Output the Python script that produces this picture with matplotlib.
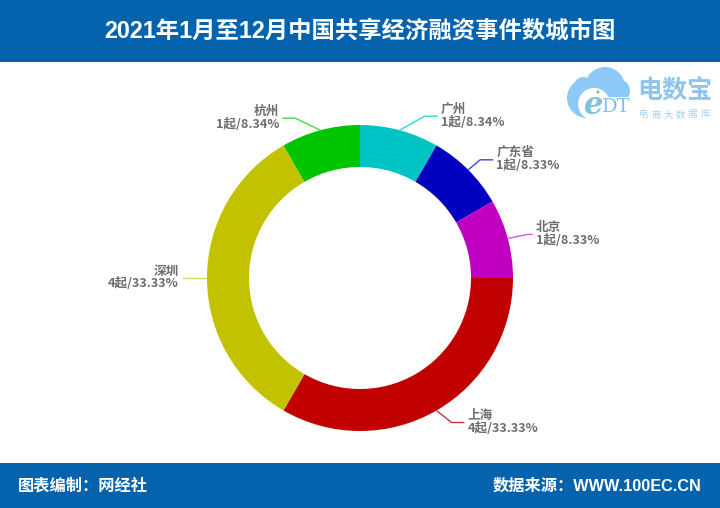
import numpy as np
import matplotlib.pyplot as plt
from matplotlib.patches import Circle, Rectangle

# Latin glyphs from Liberation Sans, Chinese from Noto
plt.rcParams['font.family'] = ['Liberation Sans', 'Noto Sans CJK SC', 'DejaVu Sans']
LABEL_FONT = ['Noto Sans CJK SC', 'DejaVu Sans']

cities = ['广州', '广东省', '北京', '上海', '深圳', '杭州']
counts = [1, 1, 1, 4, 4, 1]
shares = ['8.34%', '8.33%', '8.33%', '33.33%', '33.33%', '8.34%']
colors = ['#00c4c4', '#0000be', '#c000c0', '#c10000', '#c2c200', '#00c400']
line_colors = ['#33d6d6', '#4444dd', '#dd55dd', '#cc3333', '#dddd66', '#44dd44']

# offset of the elbow from the ring, and length of the horizontal part
elbows = [(25, -14), (12, -10), (20, -4), (15, 12), (-12, 0), (-25, -12)]
tails = [13, 13, 5, 13, 13, 13]

title = '2021年1月至12月中国共享经济融资事件数城市图'
footer_left = '图表编制：网经社'
footer_right = '数据来源：WWW.100EC.CN'
logo_name = '电数宝'
logo_sub = '电商大数据库'

W, H = 720, 508
BLUE = '#0563ae'
GREY = '#6e6e6e'
cx, cy, radius, ring = 360, H - 278, 153, 42

fig = plt.figure(figsize=(7.2, 5.08), dpi=100)
ax = fig.add_axes([0, 0, 1, 1])

wedges, _ = ax.pie(counts, colors=colors, startangle=90, counterclock=False,
                   center=(cx, cy), radius=radius,
                   wedgeprops=dict(width=ring, linewidth=0))
ax.set_xlim(0, W)
ax.set_ylim(0, H)
ax.set_aspect('equal')
ax.axis('off')

# header and footer bands
ax.add_patch(Rectangle((0, H - 62), W, 62, color=BLUE, lw=0))
ax.add_patch(Rectangle((0, 0), W, 45, color=BLUE, lw=0))
ax.text(360, H - 31, title, color='white', fontsize=16.8, fontweight='bold',
        ha='center', va='center')
ax.text(18, 22, footer_left, color='white', fontsize=11.7, fontweight='bold',
        ha='left', va='center')
ax.text(702, 22, footer_right, color='white', fontsize=11.7, fontweight='bold',
        ha='right', va='center')

# leader lines and labels
for w, city, n, share, c, (dx, dy), tail in zip(wedges, cities, counts, shares,
                                                line_colors, elbows, tails):
    ang = np.deg2rad((w.theta1 + w.theta2) / 2)
    x0 = cx + radius * np.cos(ang)
    y0 = cy + radius * np.sin(ang)
    x1, y1 = x0 + dx, y0 - dy
    side = 1 if dx > 0 else -1
    x2 = x1 + side * tail
    ax.plot([x0, x1, x2], [y0, y1, y1], color=c, lw=1, solid_capstyle='butt')
    ha = 'left' if side > 0 else 'right'
    tx = x2 + side * 3
    ax.text(tx, y1 + 7, city, color=GREY, fontsize=9.1, fontweight='bold',
            family=LABEL_FONT, ha=ha, va='center')
    ax.text(tx, y1 - 6, f'{n}起/{share}', color=GREY, fontsize=9.1,
            fontweight='bold', family=LABEL_FONT, ha=ha, va='center')

# logo, top right
logo = '#8ec8f7'
for x, y, r in [(587, 98, 20), (605, 87, 20), (583, 86, 9), (618, 91, 12)]:
    ax.add_patch(Circle((x, H - y), r, color=logo, lw=0))
ax.add_patch(Circle((594, H - 104), 16, color='white', lw=0))
ax.add_patch(Rectangle((590, H - 122), 45, 25, color='white', lw=0))
ax.text(594, H - 106, 'e', color='#7cc4d8', fontsize=22, fontweight='bold',
        family='DejaVu Serif', style='italic', ha='center', va='center')
ax.add_patch(Circle((598, H - 92), 1.5, color='#8ec43e', lw=0))
ax.text(616, H - 107, 'DT', color='#7cc0e8', fontsize=14, family='DejaVu Serif',
        ha='center', va='center')
ax.text(674.5, H - 92, logo_name, color='#8fc4ee', fontsize=18, fontweight='bold',
        ha='center', va='center')
for i, ch in enumerate(logo_sub):
    ax.text(644 + i * 12.2, H - 115, ch, color='#a8d2f0', fontsize=6.8,
            ha='center', va='center')

fig.savefig('out.png', dpi=100)
